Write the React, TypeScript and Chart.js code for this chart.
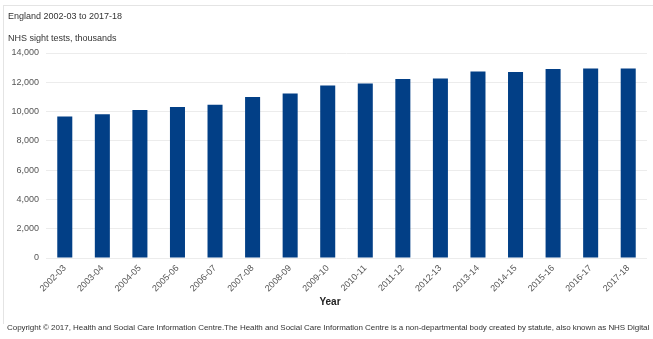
import React, { useEffect, useRef } from "react";
import { Chart, registerables } from "chart.js";

Chart.register(...registerables);

const categories = [
  "2002-03", "2003-04", "2004-05", "2005-06", "2006-07", "2007-08", "2008-09", "2009-10",
  "2010-11", "2011-12", "2012-13", "2013-14", "2014-15", "2015-16", "2016-17", "2017-18",
];
const sightTests = [
  9660, 9820, 10100, 10320, 10470, 10990, 11230, 11780,
  11920, 12220, 12260, 12740, 12700, 12900, 12950, 12950,
];
const titleText = "England 2002-03 to 2017-18";
const subtitleText = "NHS sight tests, thousands";
const xAxisTitle = "Year";
const footerText =
  "Copyright © 2017, Health and Social Care Information Centre.The Health and Social Care Information Centre is a non-departmental body created by statute, also known as NHS Digital";

const FONT = "'Liberation Sans', Arial, sans-serif";

export default function App() {
  const ref = useRef<HTMLCanvasElement | null>(null);

  useEffect(() => {
    if (!ref.current) return;
    const chart = new Chart(ref.current, {
      type: "bar",
      data: {
        labels: categories,
        datasets: [
          {
            data: sightTests,
            backgroundColor: "#023f86",
            borderWidth: 0,
            categoryPercentage: 1,
            barPercentage: 0.4,
          },
        ],
      },
      options: {
        responsive: false,
        animation: false,
        layout: { padding: { left: 0, right: 6, top: 53, bottom: 40 } },
        plugins: {
          legend: { display: false },
          tooltip: { enabled: false },
          title: { display: false },
        },
        scales: {
          x: {
            grid: { display: false, drawTicks: false },
            border: { display: false },
            ticks: {
              color: "#555",
              font: { family: FONT, size: 9 },
              minRotation: 45,
              maxRotation: 45,
              padding: 5,
              autoSkip: false,
            },
          },
          y: {
            min: 0,
            max: 14000,
            afterFit: (scale: any) => {
              scale.width = 46;
            },
            grid: { color: "#ececec", drawTicks: false, lineWidth: 1 },
            border: { display: false },
            ticks: {
              stepSize: 2000,
              color: "#555",
              padding: 7,
              font: { family: FONT, size: 9 },
              callback: (v: any) => Number(v).toLocaleString("en-GB"),
            },
          },
        },
      },
    });
    return () => chart.destroy();
  }, []);

  return (
    <div
      style={{
        position: "fixed",
        left: 0,
        top: 0,
        width: 653,
        height: 339,
        background: "#fff",
        overflow: "hidden",
        fontFamily: FONT,
      }}
    >
      <div
        style={{
          position: "absolute",
          left: 3,
          top: 5,
          width: 700,
          height: 318,
          borderTop: "1px solid #e4e4e4",
          borderLeft: "1px solid #e4e4e4",
        }}
      />
      <canvas
        ref={ref}
        width={653}
        height={339}
        style={{ position: "absolute", left: 0, top: 0, width: 653, height: 339 }}
      />
      <div style={{ position: "absolute", left: 8, top: 10, fontSize: 9, color: "#333", whiteSpace: "nowrap", lineHeight: "12px" }}>
        {titleText}
      </div>
      <div style={{ position: "absolute", left: 8, top: 32, fontSize: 9, color: "#333", whiteSpace: "nowrap", lineHeight: "12px" }}>
        {subtitleText}
      </div>
      <div style={{ position: "absolute", left: 300, width: 60, textAlign: "center", top: 296, fontSize: 10, fontWeight: "bold", color: "#222", lineHeight: "12px" }}>
        {xAxisTitle}
      </div>
      <div style={{ position: "absolute", left: 7, top: 322, fontSize: 8, letterSpacing: "-0.045px", color: "#333", whiteSpace: "nowrap", lineHeight: "12px" }}>
        {footerText}
      </div>
    </div>
  );
}
